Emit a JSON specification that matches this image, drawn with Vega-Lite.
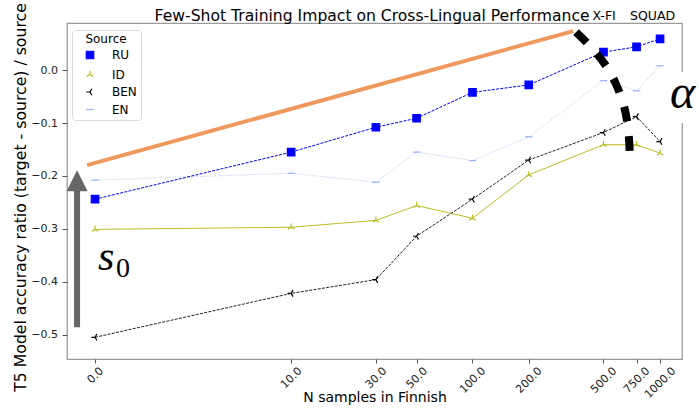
{
  "$schema": "https://vega.github.io/schema/vega-lite/v6.json",
  "width": 615,
  "height": 336,
  "autosize": {"type": "none"},
  "padding": {"left": 67, "top": 23, "right": 17, "bottom": 51},
  "background": "white",
  "config": {
    "font": "DejaVu Sans",
    "view": {"stroke": "#999999", "strokeWidth": 1.25},
    "axis": {"grid": false, "domain": false, "tickColor": "#555555", "labelColor": "#222222", "titleColor": "#000000", "labelFontSize": 11, "titleFontSize": 14, "titleFontWeight": "normal", "labelFont": "DejaVu Sans", "titleFont": "DejaVu Sans"},
    "legend": {"titleAnchor": "middle", "titleAlign": "center", "titleFontSize": 12, "titleFontWeight": "normal", "titleColor": "#000000", "labelColor": "#000000", "labelFontSize": 12, "titleFont": "DejaVu Sans", "labelFont": "DejaVu Sans", "padding": 4, "titlePadding": 3, "rowPadding": 5.5, "symbolOffset": 8, "labelOffset": 16, "strokeColor": "#d9d9d9", "fillColor": "white", "cornerRadius": 3, "symbolSize": 56, "symbolStrokeWidth": 1.2}
  },
  "datasets": {
    "main": [
      {"Source": "RU", "n": 0, "ratio": -0.244},
      {"Source": "RU", "n": 10, "ratio": -0.155},
      {"Source": "RU", "n": 30, "ratio": -0.108},
      {"Source": "RU", "n": 50, "ratio": -0.091},
      {"Source": "RU", "n": 100, "ratio": -0.042},
      {"Source": "RU", "n": 200, "ratio": -0.028},
      {"Source": "RU", "n": 500, "ratio": 0.034},
      {"Source": "RU", "n": 750, "ratio": 0.044},
      {"Source": "RU", "n": 1000, "ratio": 0.059},
      {"Source": "ID", "n": 0, "ratio": -0.301},
      {"Source": "ID", "n": 10, "ratio": -0.297},
      {"Source": "ID", "n": 30, "ratio": -0.284},
      {"Source": "ID", "n": 50, "ratio": -0.256},
      {"Source": "ID", "n": 100, "ratio": -0.280},
      {"Source": "ID", "n": 200, "ratio": -0.198},
      {"Source": "ID", "n": 500, "ratio": -0.141},
      {"Source": "ID", "n": 750, "ratio": -0.141},
      {"Source": "ID", "n": 1000, "ratio": -0.157},
      {"Source": "BEN", "n": 0, "ratio": -0.505},
      {"Source": "BEN", "n": 10, "ratio": -0.422},
      {"Source": "BEN", "n": 30, "ratio": -0.396},
      {"Source": "BEN", "n": 50, "ratio": -0.314},
      {"Source": "BEN", "n": 100, "ratio": -0.244},
      {"Source": "BEN", "n": 200, "ratio": -0.170},
      {"Source": "BEN", "n": 500, "ratio": -0.118},
      {"Source": "BEN", "n": 750, "ratio": -0.088},
      {"Source": "BEN", "n": 1000, "ratio": -0.135},
      {"Source": "EN", "n": 0, "ratio": -0.208},
      {"Source": "EN", "n": 10, "ratio": -0.195},
      {"Source": "EN", "n": 30, "ratio": -0.212},
      {"Source": "EN", "n": 50, "ratio": -0.155},
      {"Source": "EN", "n": 100, "ratio": -0.171},
      {"Source": "EN", "n": 200, "ratio": -0.126},
      {"Source": "EN", "n": 500, "ratio": -0.020},
      {"Source": "EN", "n": 750, "ratio": -0.039},
      {"Source": "EN", "n": 1000, "ratio": 0.008}
    ],
    "orange": [
      {"n": -0.1027, "ratio": -0.1796},
      {"n": 344.6, "ratio": 0.0737}
    ],
    "arc": [
      {"n": 357.4, "ratio": 0.0718},
      {"n": 424.4, "ratio": 0.0454},
      {"n": 503.9, "ratio": 0.0132},
      {"n": 576.7, "ratio": -0.0227},
      {"n": 636.2, "ratio": -0.0624},
      {"n": 668, "ratio": -0.0964},
      {"n": 684.5, "ratio": -0.1323},
      {"n": 692.9, "ratio": -0.1739}
    ],
    "shaft": [{"n": -0.246, "ratio": -0.486, "ratio2": -0.2287}],
    "head": [{"n": -0.246, "ratio": -0.2089}],
    "gap": [{"n": 1261.6, "n2": 1375, "ratio": -0.0038, "ratio2": -0.1002}],
    "alpha": [{"n": 1130.6, "ratio": -0.0718, "label": "α"}],
    "sym": [{"n": 0.0373, "ratio": -0.378, "label": "s"}],
    "sub": [{"n": 0.2926, "ratio": -0.391, "label": "0"}],
    "heading": [{"n": 28.6, "ratio": 0.0926, "label": "Few-Shot Training Impact on Cross-Lingual Performance"}],
    "tags": [
      {"n": 503.9, "ratio": 0.0945, "label": "X-FI"},
      {"n": 912.6, "ratio": 0.0945, "label": "SQUAD"}
    ]
  },
  "encoding": {
    "x": {
      "field": "n", "type": "quantitative",
      "scale": {"type": "symlog", "domain": [-0.409, 1308], "nice": false, "zero": false},
      "axis": {"title": "N samples in Finnish", "values": [0, 10, 30, 50, 100, 200, 500, 750, 1000], "format": ".1f", "labelAngle": -45, "labelAlign": "center", "labelBaseline": "middle", "labelFontSize": 11, "labelPadding": {"condition": [{"test": "datum.value < 5", "value": 12.1}, {"test": "datum.value < 60", "value": 14.6}, {"test": "datum.value < 800", "value": 17}], "value": 19.5}, "tickSize": 4, "labelOverlap": false, "labelFlush": false, "titleBaseline": "alphabetic", "titleY": 42}
    },
    "y": {
      "field": "ratio", "type": "quantitative",
      "scale": {"domain": [-0.546, 0.089], "nice": false, "zero": false},
      "axis": {"title": "T5 Model accuracy ratio (target - source) / source", "values": [0, -0.1, -0.2, -0.3, -0.4, -0.5], "format": ".1f", "tickSize": 5, "labelPadding": 4.5, "titlePadding": 2, "titleFontSize": 15.7, "titleY": 174}
    }
  },
  "layer": [
    {
      "data": {"name": "main"},
      "transform": [{"filter": {"field": "Source", "equal": "EN"}}],
      "mark": {"type": "line", "strokeWidth": 1, "color": "#b8c8ff", "strokeDash": [1, 1.5]},
      "encoding": {}
    },
    {
      "data": {"name": "main"},
      "transform": [{"filter": {"field": "Source", "equal": "RU"}}],
      "mark": {"type": "line", "strokeWidth": 1, "color": "#0000ff", "strokeDash": [3, 1.3]},
      "encoding": {}
    },
    {
      "data": {"name": "main"},
      "transform": [{"filter": {"field": "Source", "equal": "ID"}}],
      "mark": {"type": "line", "strokeWidth": 1, "color": "#bcbd22"},
      "encoding": {}
    },
    {
      "data": {"name": "main"},
      "transform": [{"filter": {"field": "Source", "equal": "BEN"}}],
      "mark": {"type": "line", "strokeWidth": 1, "color": "#222222", "strokeDash": [3, 1.3]},
      "encoding": {}
    },
    {
      "data": {"name": "main"},
      "mark": {"type": "point", "size": 56, "strokeWidth": 1.2, "opacity": 1},
      "encoding": {
        "shape": {"field": "Source", "type": "nominal", "scale": {"domain": ["RU", "ID", "BEN", "EN"], "range": ["square", "M0,0L0,-1M0,0L-0.866,0.5M0,0L0.866,0.5", "M0,0L-1,0M0,0L0.5,-0.866M0,0L0.5,0.866", "M-1,0L1,0"]}, "legend": {"title": "Source", "orient": "none", "legendX": 5, "legendY": 7, "titleAnchor": "middle", "titleAlign": "center", "titleFontSize": 12, "titleFontWeight": "normal", "labelFontSize": 12, "padding": 4, "titlePadding": 3, "rowPadding": 5.5, "symbolOffset": 8, "labelOffset": 16, "strokeColor": "#d9d9d9", "fillColor": "white", "cornerRadius": 3, "symbolSize": 56, "symbolStrokeWidth": 1.2}},
        "stroke": {"field": "Source", "type": "nominal", "scale": {"domain": ["RU", "ID", "BEN", "EN"], "range": ["#0000ff", "#bcbd22", "#000000", "#99b0ff"]}, "legend": {"title": "Source", "orient": "none", "legendX": 5, "legendY": 7, "titleAnchor": "middle", "titleAlign": "center", "titleFontSize": 12, "titleFontWeight": "normal", "labelFontSize": 12, "padding": 4, "titlePadding": 3, "rowPadding": 5.5, "symbolOffset": 8, "labelOffset": 16, "strokeColor": "#d9d9d9", "fillColor": "white", "cornerRadius": 3, "symbolSize": 56, "symbolStrokeWidth": 1.2}},
        "fill": {"field": "Source", "type": "nominal", "scale": {"domain": ["RU", "ID", "BEN", "EN"], "range": ["#0000ff", "transparent", "transparent", "transparent"]}, "legend": {"title": "Source", "orient": "none", "legendX": 5, "legendY": 7, "titleAnchor": "middle", "titleAlign": "center", "titleFontSize": 12, "titleFontWeight": "normal", "labelFontSize": 12, "padding": 4, "titlePadding": 3, "rowPadding": 5.5, "symbolOffset": 8, "labelOffset": 16, "strokeColor": "#d9d9d9", "fillColor": "white", "cornerRadius": 3, "symbolSize": 56, "symbolStrokeWidth": 1.2}}
      }
    },
    {
      "data": {"name": "orange"},
      "mark": {"type": "line", "color": "#f0995e", "strokeWidth": 4},
      "encoding": {}
    },
    {
      "data": {"name": "arc"},
      "mark": {"type": "line", "color": "#000000", "strokeWidth": 8, "strokeDash": [15, 15], "interpolate": "natural"},
      "encoding": {}
    },
    {
      "data": {"name": "shaft"},
      "mark": {"type": "rule", "color": "#666666", "strokeWidth": 6},
      "encoding": {"y2": {"field": "ratio2"}}
    },
    {
      "data": {"name": "head"},
      "mark": {"type": "point", "shape": "M0,-1L-1,1L1,1Z", "filled": true, "color": "#666666", "size": 441, "opacity": 1},
      "encoding": {}
    },
    {
      "data": {"name": "gap"},
      "mark": {"type": "rect", "color": "white"},
      "encoding": {"x2": {"field": "n2"}, "y2": {"field": "ratio2"}}
    },
    {
      "data": {"name": "alpha"},
      "mark": {"type": "text", "font": "Liberation Serif", "fontStyle": "italic", "fontSize": 48, "align": "left", "baseline": "alphabetic", "color": "#000000"},
      "encoding": {"text": {"field": "label"}}
    },
    {
      "data": {"name": "sym"},
      "mark": {"type": "text", "font": "Liberation Serif", "fontStyle": "italic", "fontSize": 42, "align": "left", "baseline": "alphabetic", "color": "#000000"},
      "encoding": {"text": {"field": "label"}}
    },
    {
      "data": {"name": "sub"},
      "mark": {"type": "text", "font": "Liberation Serif", "fontSize": 28, "align": "left", "baseline": "alphabetic", "color": "#000000"},
      "encoding": {"text": {"field": "label"}}
    },
    {
      "data": {"name": "heading"},
      "mark": {"type": "text", "font": "DejaVu Sans", "fontSize": 15.6, "align": "center", "baseline": "alphabetic", "color": "#000000"},
      "encoding": {"text": {"field": "label"}}
    },
    {
      "data": {"name": "tags"},
      "mark": {"type": "text", "font": "DejaVu Sans", "fontSize": 12.5, "align": "center", "baseline": "alphabetic", "color": "#000000"},
      "encoding": {"text": {"field": "label"}}
    }
  ]
}
